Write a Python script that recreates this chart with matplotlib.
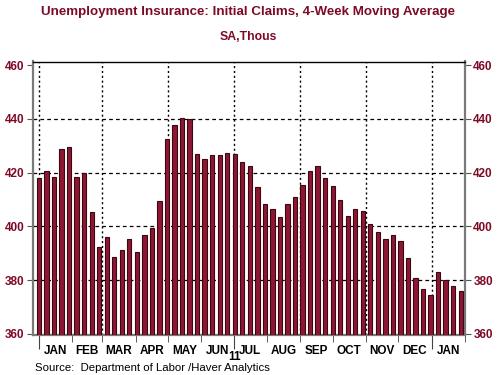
import matplotlib
matplotlib.use('Agg')
import matplotlib.pyplot as plt
import matplotlib.dates as mdates
import pandas as pd

# 4-week moving average of initial claims, thousands, weeks ending Saturday
primera_semana = '2011-01-01'
valores = [418.1, 420.5, 418.4, 428.7, 429.7, 418.4, 419.9, 405.2, 392.5, 396.1,
           388.6, 391.3, 395.4, 390.6, 396.9, 399.5, 409.3, 432.4, 437.9, 440.4,
           439.9, 427.0, 425.0, 426.4, 426.4, 427.5, 426.9, 423.9, 422.4, 414.8,
           408.4, 406.4, 403.4, 408.4, 411.0, 415.5, 420.5, 422.4, 418.1, 415.1,
           410.0, 403.8, 406.6, 405.7, 400.9, 397.9, 395.4, 396.8, 394.6, 388.4,
           380.6, 376.7, 374.6, 382.9, 379.9, 377.7, 375.9]
meses = ['JAN', 'FEB', 'MAR', 'APR', 'MAY', 'JUN', 'JUL', 'AUG', 'SEP', 'OCT',
         'NOV', 'DEC', 'JAN']
ticks_y = [360, 380, 400, 420, 440, 460]

fechas = pd.date_range(primera_semana, periods=len(valores), freq='W-SAT')
granate = '#7d0a26'
fuente = 'Liberation Sans'

fig = plt.figure(figsize=(5, 3.75), dpi=100)
ax = fig.add_axes([0.065, 0.107, 0.865, 0.729])

ax.bar(fechas, valores, width=4, color='#8e1632', edgecolor='#3a0810',
       linewidth=0.8, zorder=3)

ax.set_ylim(359.6, 461.4)
xmin, xmax = pd.Timestamp('2010-12-26'), pd.Timestamp('2012-02-01')
ax.set_xlim(xmin, xmax)

# rejilla horizontal discontinua
ax.set_yticks(ticks_y)
ax.yaxis.grid(True, linestyle=(0, (3, 2.5)), color='black', linewidth=0.9, zorder=1)
ax.yaxis.get_gridlines()[-1].set_visible(False)
ax.yaxis.get_gridlines()[0].set_visible(False)

# rejilla vertical punteada cada dos meses
bimestres = mdates.MonthLocator(bymonth=[1, 3, 5, 7, 9, 11]).tick_values(xmin, xmax)
for v in bimestres:
    ax.axvline(v, linestyle=(0, (1.5, 2)), color='black', linewidth=1.0, zorder=1)

ax.xaxis.set_major_locator(mdates.MonthLocator(bymonth=[1, 7]))
ax.xaxis.set_minor_locator(mdates.MonthLocator())
ax.set_xticklabels([])
ax.tick_params(axis='x', which='major', length=10, direction='out', color='#444444')
ax.tick_params(axis='x', which='minor', length=5, direction='out', color='#444444')

ax.tick_params(axis='y', left=True, right=True, labelleft=True, labelright=True,
               length=4, direction='out', labelsize=8.5, labelcolor=granate,
               color='#555555', pad=2)
for lab in ax.get_yticklabels():
    lab.set_fontweight('bold')
    lab.set_family(fuente)

for lado in ['left', 'right', 'bottom']:
    ax.spines[lado].set_color('#7a7a7a')
    ax.spines[lado].set_linewidth(1.6)
ax.spines['top'].set_color('black')
ax.spines['top'].set_linewidth(1.0)

# etiquetas de mes centradas en cada mes
inicios = pd.date_range('2011-01-01', periods=len(meses) + 1, freq='MS')
for i, mes in enumerate(meses):
    centro = inicios[i] + (inicios[i + 1] - inicios[i]) / 2
    ax.text(centro, -0.036, mes, transform=ax.get_xaxis_transform(),
            ha='center', va='top', fontsize=8.5, fontweight='bold', family=fuente)
ax.text(pd.Timestamp('2011-07-02'), -0.058, '11', transform=ax.get_xaxis_transform(),
        ha='center', va='top', fontsize=8.5, fontweight='bold', family=fuente)

fig.text(0.07, 0.018, 'Source:  Department of Labor /Haver Analytics', fontsize=8.2,
         family=fuente, va='center')
fig.text(0.496, 0.968, 'Unemployment Insurance: Initial Claims, 4-Week Moving Average',
         ha='center', va='center', fontsize=9.6, fontweight='bold', color=granate,
         family=fuente)
fig.text(0.496, 0.9, 'SA,Thous', ha='center', va='center', fontsize=8.8,
         fontweight='bold', color=granate, family=fuente)

fig.savefig('out.png', dpi=100)
